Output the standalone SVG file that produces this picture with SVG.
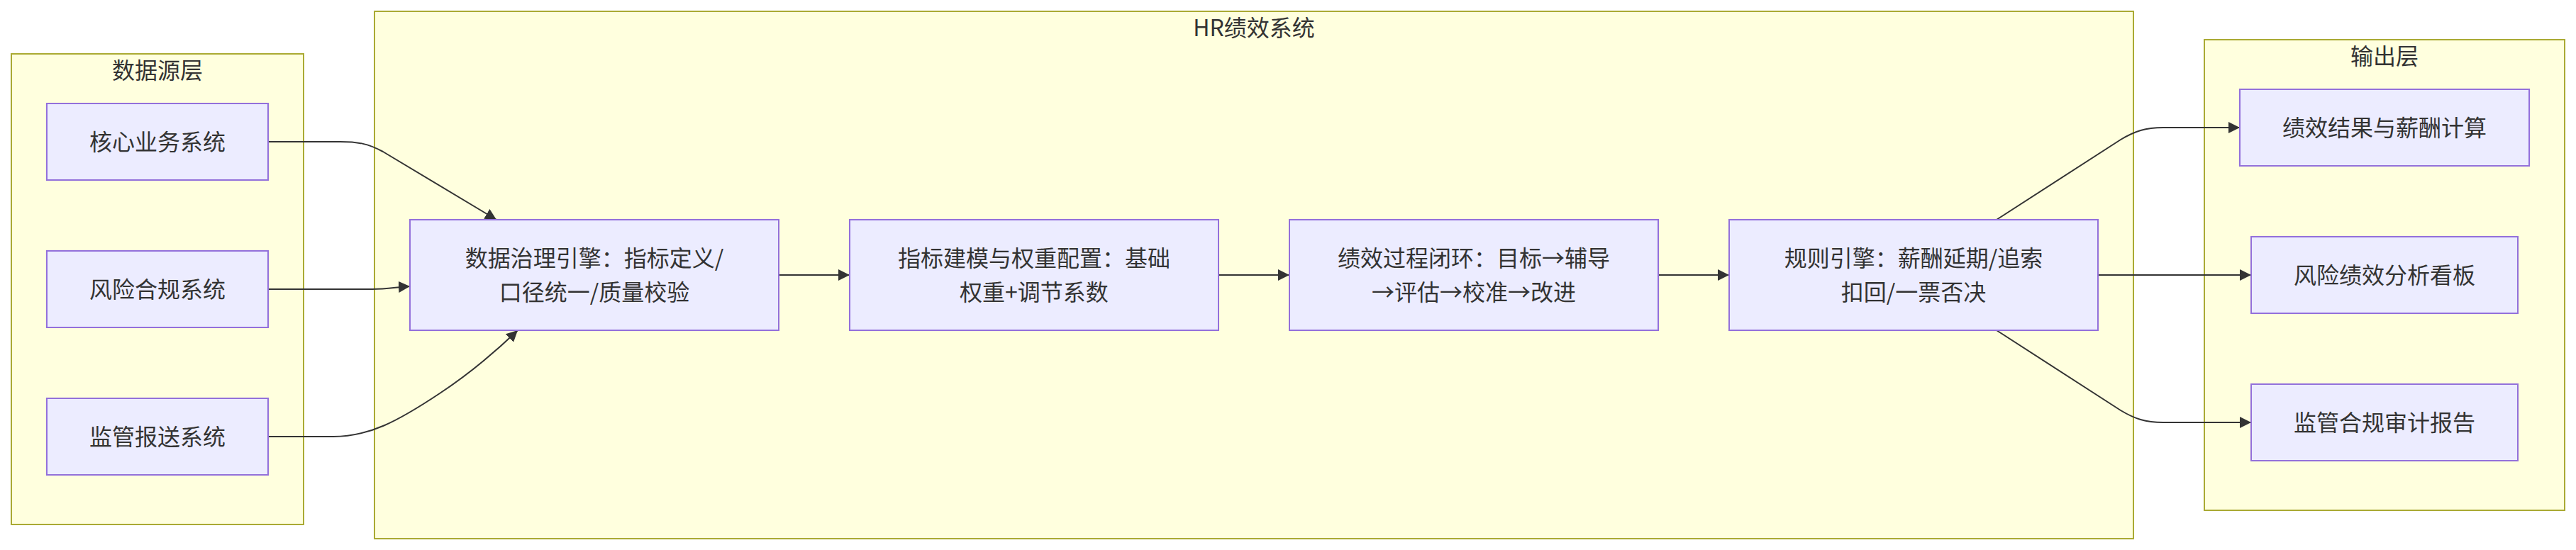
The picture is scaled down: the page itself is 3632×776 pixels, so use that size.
<svg xmlns="http://www.w3.org/2000/svg" width="3632" height="776" viewBox="0 0 3632 776">
<style>
.cluster{fill:#ffffde;stroke:#aaaa33;stroke-width:2}
.node rect{fill:#ececff;stroke:#9370db;stroke-width:2}
.t{font-family:"Noto Sans CJK SC","Noto Sans",sans-serif;font-size:32px;fill:#333333;text-anchor:middle}
.edge{fill:none;stroke:#333333;stroke-width:2;marker-end:url(#arrow)}
</style>
<defs>
<marker id="arrow" viewBox="0 0 10 10" refX="10" refY="5" markerWidth="16" markerHeight="16" markerUnits="userSpaceOnUse" orient="auto">
<path d="M0,0 L10,5 L0,10 z" fill="#333333"/>
</marker>
</defs>
<rect width="3632" height="776" fill="#ffffff"/>
<g id="cluster-datasource">
<rect class="cluster" x="16" y="76" width="412" height="664"/>
<text class="t" x="222" y="111">数据源层</text>
</g>
<g id="cluster-hr">
<rect class="cluster" x="528" y="16" width="2480" height="744"/>
<text class="t" x="1768" y="51">HR绩效系统</text>
</g>
<g id="cluster-output">
<rect class="cluster" x="3108" y="56" width="508" height="664"/>
<text class="t" x="3362" y="91">输出层</text>
</g>
<g id="connectors">
<path class="edge" d="M378,200 L480,200 C505,200 520,203 540,214 L700,310"/>
<path class="edge" d="M378,408 L525,408 C545,408 560,405 578,404"/>
<path class="edge" d="M378,616 L470,616 C520,616 560,595 620,555 C670,522 705,490 730,466"/>
<path class="edge" d="M1098,388 L1198,388"/>
<path class="edge" d="M1718,388 L1818,388"/>
<path class="edge" d="M2338,388 L2438,388"/>
<path class="edge" d="M2815,310 L2990,197 C3010,185 3025,180 3050,180 L3158,180"/>
<path class="edge" d="M2958,388 L3174,388"/>
<path class="edge" d="M2815,466 L2990,579 C3010,591 3025,596 3050,596 L3174,596"/>
</g>
<g id="node-core" class="node">
<rect x="66" y="146" width="312" height="108"/>
<text class="t" x="222" y="212">核心业务系统</text>
</g>
<g id="node-risk" class="node">
<rect x="66" y="354" width="312" height="108"/>
<text class="t" x="222" y="420">风险合规系统</text>
</g>
<g id="node-reg" class="node">
<rect x="66" y="562" width="312" height="108"/>
<text class="t" x="222" y="628">监管报送系统</text>
</g>
<g id="node-gov" class="node">
<rect x="578" y="310" width="520" height="156"/>
<text class="t" x="838" y="376">数据治理引擎：指标定义/</text>
<text class="t" x="838" y="424">口径统一/质量校验</text>
</g>
<g id="node-model" class="node">
<rect x="1198" y="310" width="520" height="156"/>
<text class="t" x="1458" y="376">指标建模与权重配置：基础</text>
<text class="t" x="1458" y="424">权重+调节系数</text>
</g>
<g id="node-loop" class="node">
<rect x="1818" y="310" width="520" height="156"/>
<text class="t" x="2078" y="376">绩效过程闭环：目标→辅导</text>
<text class="t" x="2078" y="424">→评估→校准→改进</text>
</g>
<g id="node-rule" class="node">
<rect x="2438" y="310" width="520" height="156"/>
<text class="t" x="2698" y="376">规则引擎：薪酬延期/追索</text>
<text class="t" x="2698" y="424">扣回/一票否决</text>
</g>
<g id="node-pay" class="node">
<rect x="3158" y="126" width="408" height="108"/>
<text class="t" x="3362" y="192">绩效结果与薪酬计算</text>
</g>
<g id="node-dash" class="node">
<rect x="3174" y="334" width="376" height="108"/>
<text class="t" x="3362" y="400">风险绩效分析看板</text>
</g>
<g id="node-audit" class="node">
<rect x="3174" y="542" width="376" height="108"/>
<text class="t" x="3362" y="608">监管合规审计报告</text>
</g>
</svg>
